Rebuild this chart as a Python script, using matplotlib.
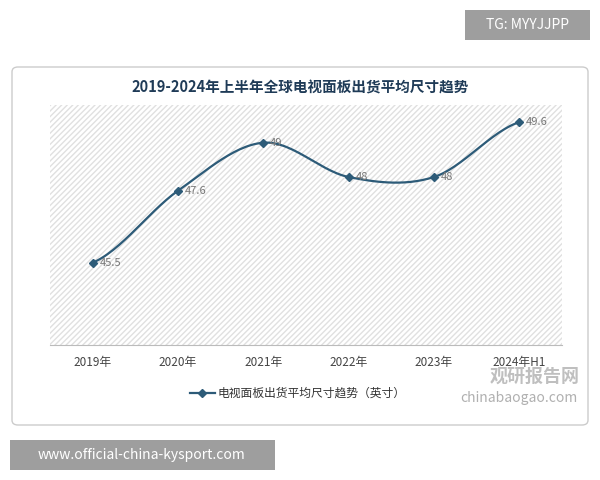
import matplotlib
matplotlib.use('Agg')
import matplotlib.pyplot as plt
from matplotlib.patches import FancyBboxPatch, Rectangle
import numpy as np

plt.rcParams['font.family'] = ['Noto Sans CJK SC', 'DejaVu Sans']
plt.rcParams['hatch.color'] = '#e2e2e2'

years = ['2019年', '2020年', '2021年', '2022年', '2023年', '2024年H1']
sizes = [45.5, 47.6, 49, 48, 48, 49.6]
title = '2019-2024年上半年全球电视面板出货平均尺寸趋势'
legend_label = '电视面板出货平均尺寸趋势（英寸）'
line_color = '#2d5b78'

W, H = 600, 480
fig = plt.figure(figsize=(6, 4.8), dpi=100)

def px(x, y, w, h):
    return [x / W, 1 - (y + h) / H, w / W, h / H]

# outer frame
fig.patches.append(FancyBboxPatch((12 / W, 1 - 425 / H), 576 / W, 358 / H,
                                  boxstyle='round,pad=0,rounding_size=0.01',
                                  transform=fig.transFigure, fc='white', ec='#cccccc', lw=1,
                                  zorder=-5))
fig.text(300 / W, 1 - 88 / H, title, ha='center', va='center', fontsize=10.5,
         fontweight='bold', color='#1f3b57')

ax = fig.add_axes(px(50, 105, 512, 240))
ax.patch.set_alpha(0)
ax.add_patch(Rectangle((0, 0), 1, 1, transform=ax.transAxes, fc='white',
                       ec='#e0e0e0', lw=0, hatch='//////', zorder=0))
x = np.arange(len(sizes))
y = np.array(sizes)
# smooth Catmull-Rom curve through the data points
xs, ys = [], []
for i in range(len(x) - 1):
    p0 = y[max(i - 1, 0)]; p1 = y[i]; p2 = y[i + 1]; p3 = y[min(i + 2, len(y) - 1)]
    t = np.linspace(0, 1, 30)
    yy = 0.5 * ((2 * p1) + (-p0 + p2) * t + (2 * p0 - 5 * p1 + 4 * p2 - p3) * t ** 2
                + (-p0 + 3 * p1 - 3 * p2 + p3) * t ** 3)
    xs.extend(x[i] + t); ys.extend(yy)
ax.plot(xs, ys, color=line_color, lw=1.6, zorder=3)
ax.plot(x, y, 'D', color=line_color, ms=4, zorder=4)
for xi, yi in zip(x, y):
    ax.text(xi + 0.08, yi, f'{yi:g}', va='center', ha='left', fontsize=8, color='#777777', zorder=5)
ax.set_xlim(-0.5, 5.5)
ax.set_ylim(43.1, 50.1)
ax.set_yticks([])
ax.set_xticks(x)
ax.set_xticklabels(years, fontsize=8.5, color='#444444')
ax.tick_params(axis='x', length=0, pad=8)
for s in ['top', 'left', 'right']:
    ax.spines[s].set_visible(False)
ax.spines['bottom'].set_color('#bbbbbb')

# legend
fig.add_artist(plt.Line2D([190 / W, 215 / W], [1 - 393 / H] * 2, color=line_color, lw=1.6))
fig.add_artist(plt.Line2D([202 / W], [1 - 393 / H], marker='D', color=line_color, ms=4))
fig.text(218 / W, 1 - 393 / H, legend_label, va='center', fontsize=8.5, color='#333333')

# watermark
fig.text(490 / W, 1 - 376 / H, '观研报告网', fontsize=13, fontweight='bold', color='#b0b0b0',
         ha='left', va='center', alpha=0.8)
fig.text(460 / W, 1 - 398 / H, 'chinabaogao.com', fontsize=10, color='#b0b0b0', ha='left', va='center')

# top-right tag and bottom-left url
fig.patches.append(Rectangle((465 / W, 1 - 40 / H), 125 / W, 30 / H, transform=fig.transFigure,
                             fc='#9e9e9e', ec='none'))
fig.text(527 / W, 1 - 25 / H, 'TG: MYYJJPP', ha='center', va='center', fontsize=10, color='white')
fig.patches.append(Rectangle((10 / W, 1 - 470 / H), 265 / W, 30 / H, transform=fig.transFigure,
                             fc='#9e9e9e', ec='none'))
fig.text(142 / W, 1 - 455 / H, 'www.official-china-kysport.com', ha='center', va='center',
         fontsize=10, color='white')

fig.savefig('out.png', dpi=100)
